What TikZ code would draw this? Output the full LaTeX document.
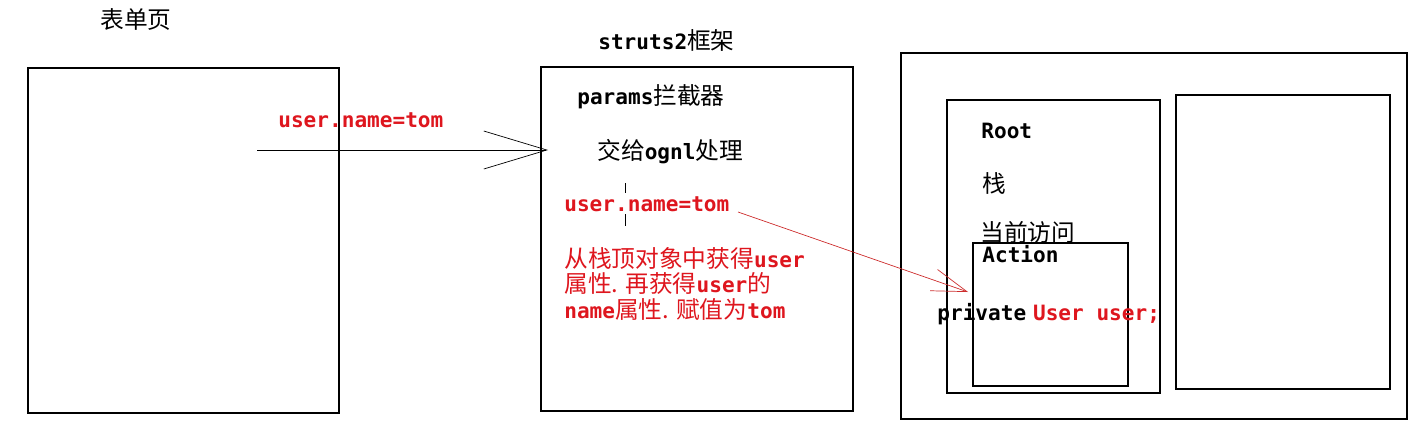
\documentclass[tikz,border=0pt]{standalone}
\usepackage{fontspec}
\setmonofont{DejaVu Sans Mono}
\newfontfamily\cjk{Noto Sans CJK SC}
\usetikzlibrary{arrows.meta}
\definecolor{txtred}{RGB}{222,22,30}
\definecolor{linered}{RGB}{205,45,45}
\newcommand{\zh}[1]{{\cjk\fontsize{13.5}{14.5}\selectfont #1}}
\newcommand{\code}[1]{{\ttfamily\bfseries #1}}
\tikzset{
  box/.style={draw,line width=1pt},
  lbl/.style={anchor=west,inner sep=0pt,font=\fontsize{12}{14.5}\selectfont},
  redlbl/.style={lbl,text=txtred},
}
\begin{document}
\begin{tikzpicture}[x=0.02cm,y=-0.02cm]
  \useasboundingbox (0,0) rectangle (1425,437);
  % boxes
  \draw[box] (28,68) rectangle (339,413);
  \draw[box] (541,67) rectangle (853,411);
  \draw[box] (901,53) rectangle (1407,419);
  \draw[box] (947,100) rectangle (1160,393);
  \draw[box] (1176,95) rectangle (1390,389);
  \draw[box] (973,243) rectangle (1128,386);
  % titles
  \node[lbl] (form) at (100,20) {\zh{表单页}};
  \node[lbl] (frame) at (598,40) {\code{struts2}\zh{框架}};
  % middle box
  \node[lbl] (params) at (577,97) {\code{params}\zh{拦截器}};
  \node[lbl] (ognl) at (597,152) {\zh{交给}\code{ognl}\zh{处理}};
  \node[redlbl] (expr) at (564,204) {\code{user.name=tom}};
  \draw (625,183) -- (625,193) (625,214) -- (625,226);
  \node[redlbl,anchor=north west,align=left] (desc) at (564,247)
    {\zh{从栈顶对象中获得}\code{user}\\
     \zh{属性. 再获得}\code{user}\zh{的}\\
     \code{name}\zh{属性. 赋值为}\code{tom}};
  % left box
  \node[redlbl] (param) at (278,120) {\code{user.name=tom}};
  % right box
  \node[lbl] (root) at (981,131) {\code{Root}};
  \node[lbl] (stack) at (982,183) {\zh{栈}};
  \node[lbl] (cur) at (980,232) {\zh{当前访问}};
  \node[lbl] (action) at (982,254) {\code{Action}};
  \node[lbl] (field) at (937,314) {\code{private} \textcolor{txtred}{\code{User user;}}};
  % connectors
  \coordinate (send) at (257,150);
  \coordinate (recv) at (548,150);
  \coordinate (from) at (738,212);
  \coordinate (to) at (968,292);
  \draw[-{Straight Barb[length=1.26cm,width=0.76cm]}] (send) -- (recv);
  \draw[linered,-{Straight Barb[length=0.7cm,width=0.45cm]}] (from) -- (to);
\end{tikzpicture}
\end{document}
